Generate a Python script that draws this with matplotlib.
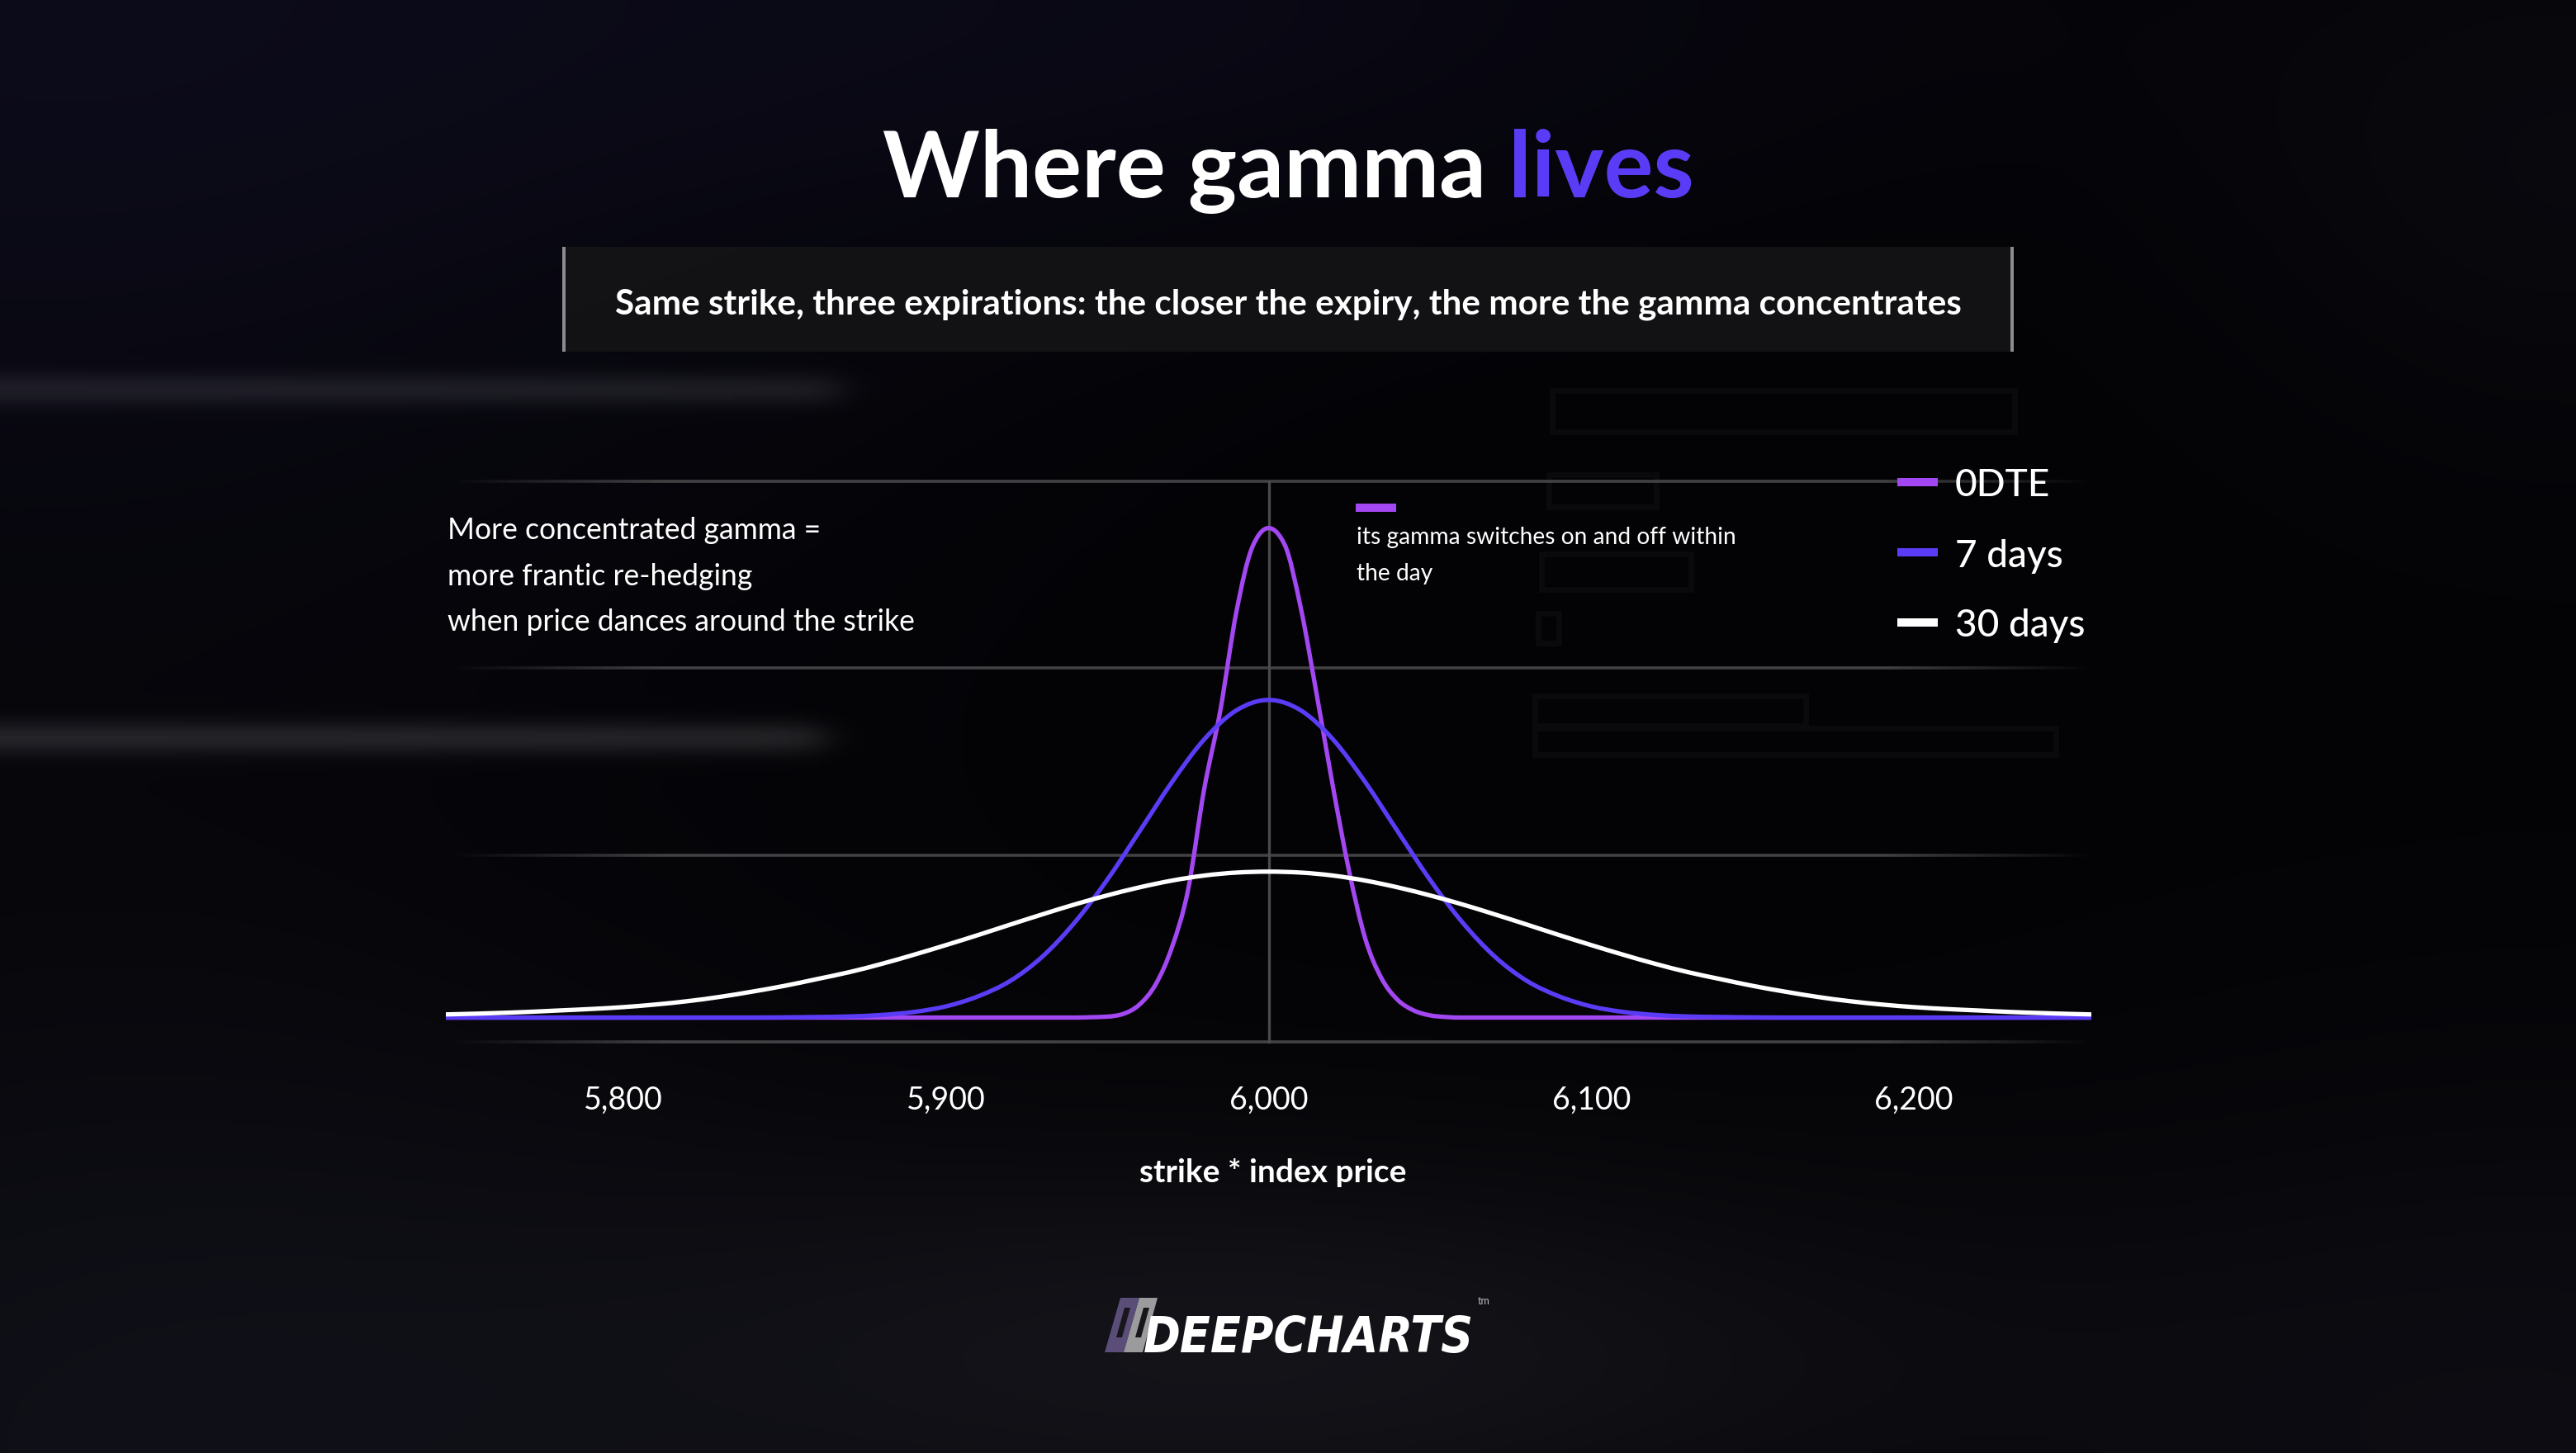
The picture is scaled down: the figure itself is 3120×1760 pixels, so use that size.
import matplotlib
import numpy as np

matplotlib.use("Agg")
import matplotlib.pyplot as plt  # noqa: E402
from matplotlib.collections import LineCollection  # noqa: E402
from matplotlib.patches import PathPatch, Polygon, Rectangle  # noqa: E402
from matplotlib.path import Path  # noqa: E402

W, H, DPI = 3120, 1760, 200

# ---- data ------------------------------------------------------------------
STRIKES = list(range(5740, 6261, 10))
GAMMA_30D = [
    0.015, 0.019, 0.024, 0.030, 0.038, 0.046, 0.056, 0.070, 0.088, 0.111,
    0.139, 0.170, 0.206, 0.243, 0.287, 0.336, 0.388, 0.442, 0.498, 0.553,
    0.606, 0.654, 0.697, 0.733, 0.760, 0.776, 0.781,
    0.776, 0.760, 0.733, 0.697, 0.654, 0.606, 0.553, 0.498, 0.442, 0.388,
    0.336, 0.287, 0.243, 0.206, 0.170, 0.139, 0.111, 0.088, 0.070, 0.056,
    0.046, 0.038, 0.030, 0.024, 0.019, 0.015,
]
GAMMA_7D = [
    0, 0, 0, 0, 0, 0, 0, 0, 0, 0,
    0, 0.001, 0.003, 0.006, 0.014, 0.030, 0.060, 0.114, 0.197, 0.328,
    0.511, 0.738, 0.997, 1.259, 1.488, 1.644, 1.700,
    1.644, 1.488, 1.259, 0.997, 0.738, 0.511, 0.328, 0.197, 0.114, 0.060,
    0.030, 0.014, 0.006, 0.003, 0.001, 0, 0, 0, 0, 0,
    0, 0, 0, 0, 0, 0,
]
ODTE_STRIKES = [
    5740, 5900, 5940, 5945, 5950, 5955, 5960, 5965, 5970, 5975, 5980, 5985,
    5990, 5995, 6000, 6005, 6010, 6015, 6020, 6025, 6030, 6035, 6040, 6045,
    6050, 6055, 6060, 6100, 6260,
]
GAMMA_0DTE = [
    0, 0, 0, 0.002, 0.005, 0.02, 0.07, 0.178, 0.374, 0.68, 1.22, 1.64,
    2.17, 2.52, 2.62, 2.53, 2.19, 1.72, 1.23, 0.78, 0.42, 0.21, 0.095, 0.038,
    0.012, 0.003, 0, 0, 0,
]
SERIES = ["0DTE", "7 days", "30 days"]
TICK_STRIKES = [5800, 5900, 6000, 6100, 6200]

TITLE_A, TITLE_B = "Where gamma", "lives"
SUBTITLE = "Same strike, three expirations: the closer the expiry, the more the gamma concentrates"
NOTE_LEFT = ["More concentrated gamma =", "more frantic re-hedging", "when price dances around the strike"]
NOTE_RIGHT = ["its gamma switches on and off within", "the day"]
XLABEL = "strike * index price"

PURPLE = "#A347F2"
VIOLET = "#5B3CF6"
WHITE = "#FFFFFF"
GRID = (0.26, 0.26, 0.27)
FONT = ["Lato", "DejaVu Sans"]


def mono_path(xs, ys):
    """Monotone cubic (d3 monotoneX style) drawn as bezier segments."""
    xs = np.asarray(xs, float)
    ys = np.asarray(ys, float)
    h = np.diff(xs)
    s = np.diff(ys) / h
    m = np.zeros(len(xs))
    for i in range(1, len(xs) - 1):
        if s[i - 1] * s[i] > 0:
            p = (s[i - 1] * h[i] + s[i] * h[i - 1]) / (h[i - 1] + h[i])
            m[i] = np.sign(s[i]) * min(2 * abs(s[i - 1]), 2 * abs(s[i]), abs(p))
    m[0] = (3 * s[0] - m[1]) / 2
    m[-1] = (3 * s[-1] - m[-2]) / 2
    verts, codes = [(xs[0], ys[0])], [Path.MOVETO]
    for i in range(len(xs) - 1):
        d = h[i] / 3
        verts += [(xs[i] + d, ys[i] + m[i] * d), (xs[i + 1] - d, ys[i + 1] - m[i + 1] * d),
                  (xs[i + 1], ys[i + 1])]
        codes += [Path.CURVE4] * 3
    return Path(verts, codes)


def fit(t, target_px):
    r = fig.canvas.get_renderer()
    w = t.get_window_extent(r).width
    t.set_fontsize(t.get_fontsize() * target_px / w)


fig = plt.figure(figsize=(W / DPI, H / DPI), dpi=DPI)
fig.patch.set_facecolor("#040406")

# ---- background ------------------------------------------------------------
bg = fig.add_axes([0, 0, 1, 1], zorder=-10)
gy, gx = np.mgrid[0:H:4, 0:W:4].astype(float)
img = np.zeros(gx.shape + (3,)) + np.array([3, 3, 5])


def blob(cx, cy, rx, ry, col):
    w = np.exp(-(((gx - cx) / rx) ** 2 + ((gy - cy) / ry) ** 2))
    return w[..., None] * np.array(col)


img += blob(0, 0, 1100, 700, (9, 8, 20))
img += blob(1500, 0, 900, 300, (5, 4, 12))
img += blob(150, 1760, 900, 600, (12, 12, 18))
img += blob(1560, 1640, 800, 260, (15, 15, 18))
img += blob(3120, 1760, 800, 500, (9, 9, 13))
img += blob(3120, 200, 500, 400, (5, 5, 8))
for yc, xe, amp in [(470, 1015, 22), (892, 995, 30)]:
    band = np.exp(-((gy - yc) / 20) ** 2) * (1 / (1 + np.exp((gx - xe) / 15)))
    img += band[..., None] * amp
bg.imshow(np.clip(img, 0, 255).astype(np.uint8), extent=[0, W, H, 0], aspect="auto",
          interpolation="bilinear")
bg.set_xlim(0, W)
bg.set_ylim(H, 0)
bg.axis("off")
for x0, y0, x1, y1 in [(1880, 473, 2440, 523), (1876, 575, 2006, 614), (1867, 671, 2048, 714),
                       (1859, 843, 2187, 879), (1859, 882, 2490, 914), (1863, 743, 1888, 779)]:
    bg.add_patch(Rectangle((x0, y0), x1 - x0, y1 - y0, fill=False, ec="#0a0a0d", lw=2.5))

# ---- chart -----------------------------------------------------------------
ax = fig.add_axes([540 / W, 1 - 1262 / H, (2533 - 540) / W, (1262 - 583) / H])
ax.patch.set_alpha(0)
ax.set_xlim(5745, 6255)
ax.set_ylim(-0.13, 2.87)
for sp in ax.spines.values():
    sp.set_visible(False)
ax.set_yticks([])

gxs = np.linspace(5745, 6255, 240)
t = (gxs - 5745) / 510
fade = np.clip(np.minimum(t, 1 - t) / 0.13, 0, 1)
for yv in [-0.13, 0.87, 1.87, 2.87]:
    segs = [[(gxs[i], yv), (gxs[i + 1], yv)] for i in range(len(gxs) - 1)]
    cols = [(*GRID, a) for a in fade[:-1]]
    ax.add_collection(LineCollection(segs, colors=cols, linewidths=1.3, clip_on=False, zorder=1))
ax.plot([6000, 6000], [-0.13, 2.87], color="#4a4a4d", lw=1.2, zorder=1, clip_on=False)

for xs, ys, col in [(ODTE_STRIKES, GAMMA_0DTE, PURPLE), (STRIKES, GAMMA_7D, VIOLET),
                    (STRIKES, GAMMA_30D, WHITE)]:
    ax.add_patch(PathPatch(mono_path(xs, ys), fc="none", ec=col, lw=1.9, zorder=3,
                           capstyle="butt", joinstyle="round"))

ax.set_xticks(TICK_STRIKES, labels=[f"{v:,}" for v in TICK_STRIKES])
ax.tick_params(axis="x", length=0, pad=19, labelcolor="white", labelsize=13.5)
for lbl in ax.get_xticklabels():
    lbl.set_family(FONT)
    lbl.set_fontweight("normal")

# ---- overlay texts ---------------------------------------------------------
ov = fig.add_axes([0, 0, 1, 1], zorder=5)
ov.patch.set_alpha(0)
ov.set_xlim(0, W)
ov.set_ylim(H, 0)
ov.axis("off")

full = ov.text(1069, 239, f"{TITLE_A} {TITLE_B}", fontsize=40, family=FONT, weight="bold")
fit(full, 983)
fs = full.get_fontsize()
full.remove()
r = fig.canvas.get_renderer()
ta = ov.text(1069, 239, TITLE_A, fontsize=fs, family=FONT, weight="bold", color="white")
tb = ov.text(0, 239, TITLE_B, fontsize=fs, family=FONT, weight="bold", color=VIOLET)
wb = tb.get_window_extent(r).width
tb.set_x(1069 + 983 - wb)

ov.add_patch(Rectangle((681, 299), 2438 - 681, 127, fc="#141416", ec="none", alpha=0.92))
for xe in (681, 2435):
    ov.add_patch(Rectangle((xe, 299), 4, 127, fc="#8c8c8f", ec="none"))
st = ov.text(1560, 380, SUBTITLE, ha="center", fontsize=15, family=FONT, weight="bold",
             color="white")
fit(st, 1630)

lines = []
for txt, yb in zip(NOTE_LEFT, [653, 709, 764]):
    lines.append(ov.text(542, yb, txt, fontsize=13, family=FONT, color="white"))
fit(lines[2], 565)
for ln in lines:
    ln.set_fontsize(lines[2].get_fontsize())

ov.add_patch(Rectangle((1642, 610), 49, 10, fc=PURPLE, ec="none"))
rl = []
for txt, yb in zip(NOTE_RIGHT, [659, 703]):
    rl.append(ov.text(1643, yb, txt, fontsize=10, family=FONT, color="white"))
fit(rl[0], 460)
rl[1].set_fontsize(rl[0].get_fontsize())

for name, col, yc, yb in zip(SERIES, [PURPLE, VIOLET, WHITE], [584, 669, 754], [601, 687, 771]):
    ov.add_patch(Rectangle((2298, yc - 5), 49, 10, fc=col, ec="none"))
    ov.text(2368, yb, name, fontsize=16.5, family=FONT, weight="medium", color="white")

ov.text(1542, 1432, XLABEL, ha="center", fontsize=14, family=FONT, weight="bold", color="white")

# logo
ov.add_patch(Polygon([(1338, 1638), (1357, 1572), (1380, 1572), (1361, 1638)], fc="#5a4e78"))
ov.add_patch(Polygon([(1361, 1638), (1380, 1572), (1402, 1572), (1384, 1638)], fc="#9b9b9e"))
for x0 in (1352, 1375):
    ov.add_patch(Polygon([(x0, 1620), (x0 + 10, 1584), (x0 + 17, 1584), (x0 + 7, 1620)],
                         fc="#17171b"))
logo = ov.text(1385, 1638, "DEEPCHARTS", fontsize=30,
               family=["Liberation Sans Narrow", "DejaVu Sans"], weight="heavy", style="italic",
               stretch="condensed", color="white")
fit(logo, 400)
ov.text(1790, 1580, "tm", fontsize=4.5, family=FONT, color="#bbbbbb")

fig.savefig("out.png", dpi=DPI, facecolor=fig.get_facecolor())
